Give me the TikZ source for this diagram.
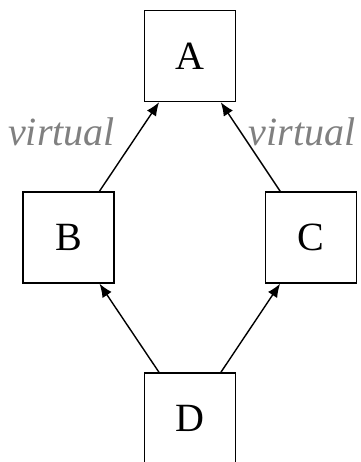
\documentclass[tikz,border=0pt]{standalone}
\usepackage{fontspec}
\setmainfont{Liberation Serif}
\usepackage{tikz}
\usetikzlibrary{arrows.meta}
\definecolor{labelgray}{RGB}{128,128,128}
\tikzstyle{box} = [rectangle, 
minimum width=1.82cm, 
minimum height=1.82cm, inner sep=0pt, text centered, 
draw=black, line width=0.8pt, font=\fontsize{22.8}{27}\selectfont]
\tikzstyle{arrow} = [line width=0.8pt,-{Latex[length=0.27cm,width=0.22cm]}]
\tikzstyle{virt} = [text=labelgray, anchor=base, inner sep=0pt, font=\fontsize{22.8}{27}\selectfont\itshape]

\begin{document}
\begin{tikzpicture}
    \useasboundingbox (0,0) rectangle (7.22,9.24);

    % draw boxes
    \node[box] (A) at (3.8,8.12) {A};
    \node[box] (B) at (1.37,4.49) {B};
    \node[box] (C) at (6.22,4.49) {C};
    \node[box] (D) at (3.8,0.87) {D};

    % draw edges
    \draw[arrow] (B) to (A);
    \draw[arrow] (C) to (A);
    \draw[arrow] (D) to (B);
    \draw[arrow] (D) to (C);

    % draw labels
    \node[virt] (virtB) at (1.23,6.32) {virtual};
    \node[virt] (virtC) at (6.04,6.32) {virtual};
\end{tikzpicture}
\end{document}
